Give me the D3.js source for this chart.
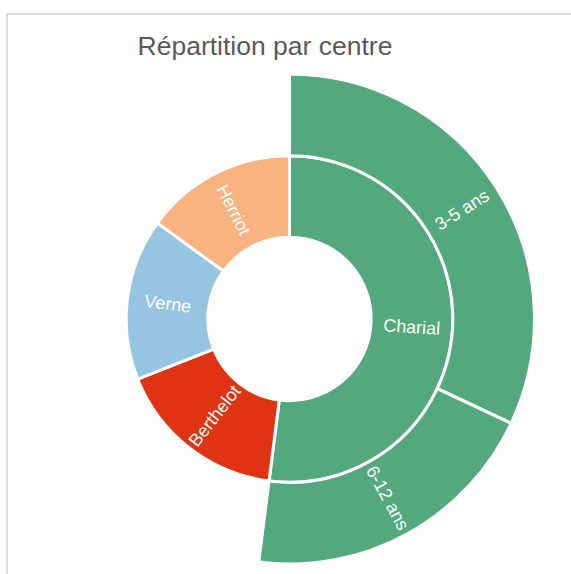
<!DOCTYPE html>
<html>
<head>
<meta charset="utf-8">
<script src="https://cdn.jsdelivr.net/npm/d3@7"></script>
<style>
  html, body { margin: 0; padding: 0; background: #fff; }
  body { width: 571px; height: 574px; overflow: hidden; position: relative; }
  .frame {
    position: absolute; left: 6px; top: 13px; width: 600px; height: 600px;
    border-top: 2px solid #dcdcdc; border-left: 2px solid #dcdcdc;
  }
  svg { position: absolute; left: 0; top: 0; }
  .label { fill: #fff; font-family: "Liberation Sans", Arial, sans-serif; font-size: 18px; }
</style>
</head>
<body>
<div class="frame"></div>
<script>
// data
var centres = ['Charial', 'Berthelot', 'Verne', 'Herriot'];
var centreValues = [null, 17, 16, 15]; // Charial is the sum of its age groups
var centreColors = ['#53a97d', '#e03314', '#95c5e1', '#f9b381'];
var charialAges = ['3-5 ans', '6-12 ans'];
var charialAgeValues = [32, 20];

function renderChart() {
  var width = 571, height = 574;
  var cx = 289.5, cy = 319;
  var outerRadius = 245;

  var tree = {
    name: 'root',
    children: centres.map(function (c, i) {
      if (c === 'Charial') {
        return {
          name: c,
          children: charialAges.map(function (a, j) {
            return { name: a, value: charialAgeValues[j] };
          })
        };
      }
      return { name: c, value: centreValues[i] };
    })
  };

  var root = d3.hierarchy(tree).sum(function (d) { return d.value || 0; });
  d3.partition().size([2 * Math.PI, root.height + 1])(root);

  var r = d3.scaleLinear().domain([0, root.height + 1]).range([0, outerRadius]);
  var color = d3.scaleOrdinal().domain(centres).range(centreColors);

  var arc = d3.arc()
    .startAngle(function (d) { return d.x0; })
    .endAngle(function (d) { return d.x1; })
    .innerRadius(function (d) { return r(d.y0); })
    .outerRadius(function (d) { return r(d.y1); });

  var svg = d3.select('body').append('svg')
    .attr('width', width)
    .attr('height', height);

  svg.append('text')
    .attr('x', 265)
    .attr('y', 55)
    .attr('text-anchor', 'middle')
    .style('font-family', '"Liberation Sans", Arial, sans-serif')
    .style('font-size', '26.5px')
    .style('fill', '#595959')
    .text('Répartition par centre');

  var g = svg.append('g')
    .attr('transform', 'translate(' + cx + ',' + cy + ')');

  var nodes = root.descendants().filter(function (d) { return d.depth > 0; });

  g.selectAll('path')
    .data(nodes)
    .enter()
    .append('path')
      .attr('d', arc)
      .attr('fill', function (d) {
        var top = d.depth === 1 ? d : d.parent;
        return color(top.data.name);
      })
      .attr('stroke', '#fff')
      .attr('stroke-width', 3);

  // radial labels
  g.selectAll('.label')
    .data(nodes)
    .enter()
    .append('text')
      .attr('class', 'label')
      .attr('text-anchor', 'middle')
      .attr('dy', '0.35em')
      .attr('transform', function (d) {
        var a = (d.x0 + d.x1) / 2 * 180 / Math.PI;
        var rad = r((d.y0 + d.y1) / 2);
        return 'rotate(' + (a - 90) + ') translate(' + rad + ',0) rotate(' + (a < 180 ? 0 : 180) + ')';
      })
      .text(function (d) { return d.data.name; });
}

renderChart();
</script>
</body>
</html>
